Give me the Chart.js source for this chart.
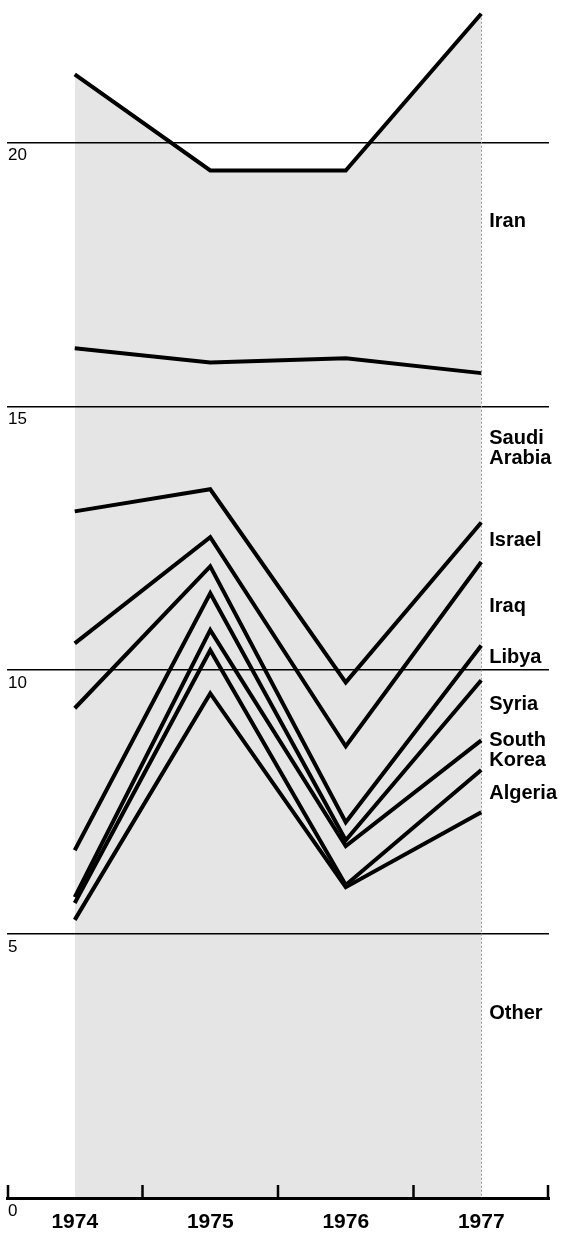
<!DOCTYPE html>
<html>
<head>
<meta charset="utf-8">
<script src="https://cdn.jsdelivr.net/npm/chart.js@4/dist/chart.umd.min.js"></script>
<style>
  html, body { margin: 0; padding: 0; background: #fff; }
  #wrap { width: 566px; height: 1233px; position: relative; }
</style>
</head>
<body>
<div id="wrap"><canvas id="c"></canvas></div>
<script>
// ---- data (cumulative stack, bottom to top) ----
const years = ['1974', '1975', '1976', '1977'];
const other       = [5.27, 9.56, 5.89, 7.31];
const algeria     = [0.32, 0.82, 0.04, 0.80];
const southKorea  = [0.11, 0.38, 0.74, 0.56];
const syria       = [0.89, 0.70, 0.11, 1.14];
const libya       = [2.69, 0.51, 0.34, 0.66];
const iraq        = [1.23, 0.55, 1.44, 1.58];
const israel      = [2.50, 0.91, 1.21, 0.75];
const saudiArabia = [3.09, 2.40, 6.14, 2.83];
const iran        = [5.19, 3.64, 3.56, 6.81];
const yTicks = [0, 5, 10, 15, 20];

const seriesNames = ['Other', 'Algeria', 'South Korea', 'Syria', 'Libya', 'Iraq', 'Israel', 'Saudi Arabia', 'Iran'];
const seriesValues = [other, algeria, southKorea, syria, libya, iraq, israel, saudiArabia, iran];

// label anchors (in data units on the y axis)
const seriesLabels = [
  { lines: ['Iran'], at: 18.5 },
  { lines: ['Saudi', 'Arabia'], at: 14.2 },
  { lines: ['Israel'], at: 12.46 },
  { lines: ['Iraq'], at: 11.2 },
  { lines: ['Libya'], at: 10.24 },
  { lines: ['Syria'], at: 9.35 },
  { lines: ['South', 'Korea'], at: 8.48 },
  { lines: ['Algeria'], at: 7.67 },
  { lines: ['Other'], at: 3.5 }
];

const FONT = "'Liberation Sans', Arial, Helvetica, sans-serif";
const FILL = 'rgba(0,0,0,0.1)';

const datasets = seriesNames.map((name, i) => ({
  label: name,
  data: seriesValues[i],
  borderColor: '#000',
  borderWidth: 4,
  backgroundColor: FILL,
  fill: i === 0 ? 'origin' : '-1',
  pointRadius: 0,
  pointHoverRadius: 0,
  tension: 0,
  borderJoinStyle: 'miter',
  borderCapStyle: 'butt'
}));

const decor = {
  id: 'decor',
  beforeDatasetsDraw(chart) {
    // faint dotted right edge of the shaded field
    const ctx = chart.ctx;
    const x = chart.scales.x;
    const y = chart.scales.y;
    const n = years.length;
    const top = seriesValues.reduce((s, arr) => s + arr[n - 1], 0);
    ctx.save();
    ctx.strokeStyle = '#9a9a9a';
    ctx.lineWidth = 1;
    ctx.setLineDash([2, 2]);
    const px = Math.round(x.getPixelForValue(n - 1)) + 0.5;
    ctx.beginPath();
    ctx.moveTo(px, y.getPixelForValue(top));
    ctx.lineTo(px, y.getPixelForValue(0));
    ctx.stroke();
    ctx.restore();
  },
  afterDraw(chart) {
    const ctx = chart.ctx;
    const x = chart.scales.x;
    const y = chart.scales.y;
    const area = chart.chartArea;
    ctx.save();
    // upward tick marks at category boundaries
    const n = years.length;
    const half = (x.getPixelForValue(1) - x.getPixelForValue(0)) / 2;
    ctx.strokeStyle = '#000';
    ctx.lineWidth = 2.5;
    for (let i = 0; i <= n; i++) {
      const px = i === 0 ? area.left + 1 : (i === n ? area.right - 1 : x.getPixelForValue(i) - half);
      ctx.beginPath();
      ctx.moveTo(px, area.bottom);
      ctx.lineTo(px, area.bottom - 13);
      ctx.stroke();
    }
    // series labels at the right
    ctx.fillStyle = '#000';
    ctx.font = 'bold 20px ' + FONT;
    ctx.textAlign = 'left';
    ctx.textBaseline = 'middle';
    const lx = x.getPixelForValue(n - 1) + 8;
    const lh = 20;
    seriesLabels.forEach(l => {
      const cy = y.getPixelForValue(l.at);
      const top = cy - (l.lines.length - 1) * lh / 2;
      l.lines.forEach((t, k) => ctx.fillText(t, lx, top + k * lh));
    });
    ctx.restore();
  }
};

new Chart(document.getElementById('c'), {
  type: 'line',
  data: { labels: years, datasets },
  options: {
    responsive: true,
    maintainAspectRatio: false,
    devicePixelRatio: 1,
    animation: false,
    layout: { padding: { left: 0, right: 17, top: 0, bottom: 0 } },
    plugins: { legend: { display: false }, tooltip: { enabled: false } },
    scales: {
      x: {
        type: 'category',
        offset: true,
        grid: { display: true, offset: true, drawOnChartArea: false, drawTicks: false, color: '#000' },
        border: { display: true, color: '#000', width: 3 },
        ticks: { color: '#000', font: { family: FONT, size: 21, weight: 'bold' }, padding: 12, maxRotation: 0 },
        afterFit: s => { s.height = 35; s.paddingLeft = 0; s.paddingRight = 0; }
      },
      y: {
        stacked: true,
        min: 0,
        max: 22.7,
        afterBuildTicks: s => { s.ticks = yTicks.map(v => ({ value: v })); },
        grid: { color: '#000', lineWidth: 1.5, drawTicks: false },
        border: { display: false },
        ticks: { mirror: true, padding: 1, labelOffset: 13, color: '#000', font: { family: FONT, size: 17 } },
        afterFit: s => { s.width = 7; s.paddingTop = 0; s.paddingBottom = 0; }
      }
    }
  },
  plugins: [decor]
});
</script>
</body>
</html>
